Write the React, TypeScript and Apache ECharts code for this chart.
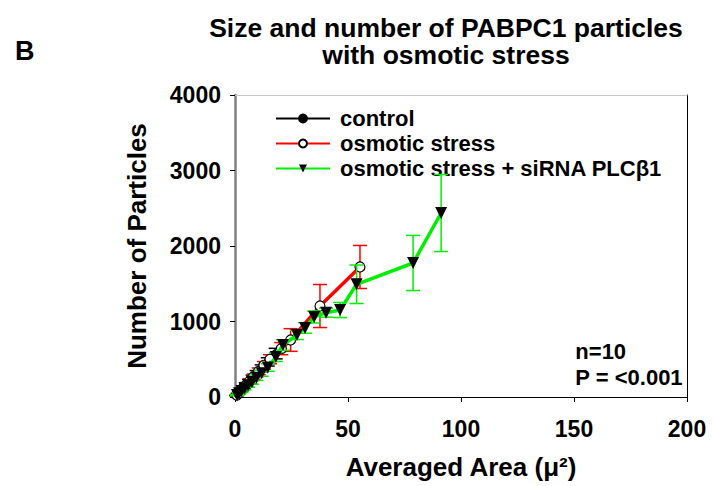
import React, { useEffect, useRef } from "react";
import * as echarts from "echarts";

const seriesNames = ["control", "osmotic stress", "osmotic stress + siRNA PLCβ1"];
const xTicks = [0, 50, 100, 150, 200];
const yTicks = [0, 1000, 2000, 3000, 4000];

const controlX = [0.6, 1.2, 2.0, 2.9, 3.8, 5.0, 6.3, 7.8, 9.6, 11.8, 14.5, 18.0];
const controlY = [20, 40, 66, 95, 125, 165, 205, 255, 310, 380, 465, 575];
const controlErr = [5, 8, 10, 15, 20, 25, 30, 35, 40, 45, 55, 70];

const osmoX = [0.8, 1.6, 2.6, 3.7, 5.0, 6.5, 8.3, 10.5, 12.8, 15.5, 20.5, 24.6, 37.6, 55.3];
const osmoY = [25, 52, 85, 120, 160, 210, 270, 340, 420, 500, 640, 755, 1205, 1722];
const osmoErr = [6, 10, 15, 20, 25, 30, 35, 45, 50, 60, 80, 150, 285, 285];

const sirnaX = [0.9, 1.8, 2.9, 4.2, 5.8, 7.5, 9.5, 11.8, 14.5, 18.1, 21.2, 27.4, 31.0, 35.0, 40.3, 46.5, 53.8, 78.8, 91.2];
const sirnaY = [25, 50, 80, 115, 155, 200, 255, 315, 390, 530, 689, 821, 914, 1060, 1117, 1152, 1493, 1775, 2437];
const sirnaErr = [8, 10, 15, 20, 25, 30, 35, 40, 50, 60, 70, 60, 70, 80, 60, 100, 255, 365, 510];

const FONT = "'Liberation Sans', Arial, Helvetica, sans-serif";

function pts(xs: number[], ys: number[]) {
  return xs.map((x, i) => [x, ys[i]]);
}
function errPts(xs: number[], ys: number[], es: number[]) {
  return xs.map((x, i) => [x, ys[i], es[i]]);
}

function errorSeries(color: string, data: number[][], z: number) {
  return {
    type: "custom",
    z,
    silent: true,
    data,
    encode: { x: 0, y: 1 },
    renderItem: (params: any, api: any) => {
      const x = api.value(0);
      const y = api.value(1);
      const e = api.value(2);
      const top = api.coord([x, y + e]);
      const bot = api.coord([x, y - e]);
      const hw = 7;
      const st = { stroke: color, lineWidth: 1.5 };
      return {
        type: "group",
        children: [
          { type: "line", shape: { x1: top[0], y1: top[1], x2: bot[0], y2: bot[1] }, style: st },
          { type: "line", shape: { x1: top[0] - hw, y1: top[1], x2: top[0] + hw, y2: top[1] }, style: st },
          { type: "line", shape: { x1: bot[0] - hw, y1: bot[1], x2: bot[0] + hw, y2: bot[1] }, style: st },
        ],
      };
    },
  };
}

export default function App() {
  const ref = useRef<HTMLDivElement>(null);
  useEffect(() => {
    if (!ref.current) return;
    const chart = echarts.init(ref.current, null, { renderer: "svg" });
    const labelStyle = { fontFamily: FONT, fontWeight: "bold", color: "#000" };
    chart.setOption({
      animation: false,
      backgroundColor: "#fff",
      title: {
        text: "Size and number of PABPC1 particles",
        subtext: "with osmotic stress",
        left: 446,
        top: 14,
        padding: 0,
        itemGap: 0,
        textAlign: "center",
        textStyle: { ...labelStyle, fontSize: 26.5, lineHeight: 27 },
        subtextStyle: { ...labelStyle, fontSize: 26.5, lineHeight: 27 },
      },
      legend: {
        left: 270,
        top: 101,
        orient: "vertical",
        itemWidth: 54,
        itemHeight: 10,
        itemGap: 0,
        data: seriesNames,
        textStyle: { ...labelStyle, fontSize: 22, lineHeight: 25, padding: [0, 0, 0, 5] },
      },
      grid: { left: 235, right: 26, top: 95, bottom: 89, containLabel: false, outerBoundsMode: "none" },
      xAxis: [
        {
          type: "value",
          min: 0,
          max: 200,
          interval: 50,
          position: "bottom",
          axisLine: { show: true, onZero: false, lineStyle: { color: "#000", width: 1 } },
          axisTick: { show: true, inside: false, length: 5, lineStyle: { color: "#000" } },
          axisLabel: { ...labelStyle, fontSize: 23, margin: 20, formatter: (v: number) => (xTicks.includes(v) ? String(v) : "") },
          splitLine: { show: false },
          name: "Averaged Area (μ²)",
          nameLocation: "middle",
          nameGap: 57,
          nameTextStyle: { ...labelStyle, fontSize: 26 },
        },
        {
          type: "value",
          min: 0,
          max: 200,
          interval: 50,
          position: "top",
          axisLine: { show: true, onZero: false, lineStyle: { color: "#c8c8c8", width: 1 } },
          axisTick: { show: false },
          axisLabel: { show: false },
          splitLine: { show: false },
        },
      ],
      yAxis: [
        {
          type: "value",
          min: 0,
          max: 4000,
          interval: 1000,
          position: "left",
          axisLine: { show: true, onZero: false, lineStyle: { color: "#808080", width: 2.5 } },
          axisTick: { show: true, inside: false, length: 5, lineStyle: { color: "#000" } },
          axisLabel: { ...labelStyle, fontSize: 23, margin: 14, formatter: (v: number) => (yTicks.includes(v) ? String(v) : "") },
          splitLine: { show: false },
          name: "Number of Particles",
          nameLocation: "middle",
          nameGap: 85,
          nameRotate: 90,
          nameTextStyle: { ...labelStyle, fontSize: 26 },
        },
        {
          type: "value",
          min: 0,
          max: 4000,
          interval: 1000,
          position: "right",
          axisLine: { show: true, onZero: false, lineStyle: { color: "#000", width: 1 } },
          axisTick: { show: false },
          axisLabel: { show: false },
          splitLine: { show: false },
        },
      ],
      graphic: [
        {
          type: "text",
          left: 15,
          top: 37,
          style: { text: "B", font: `bold 27px ${FONT}`, fill: "#000" },
        },
        {
          type: "text",
          right: 30,
          top: 338,
          style: {
            text: "n=10\nP = <0.001",
            font: `bold 22px ${FONT}`,
            fill: "#000",
            align: "right",
            lineHeight: 26,
          },
        },
      ],
      series: [
        errorSeries("#000000", errPts(controlX, controlY, controlErr), 1),
        {
          name: seriesNames[0],
          type: "line",
          z: 2,
          data: pts(controlX, controlY),
          symbol: "circle",
          symbolSize: 8,
          color: "#000",
          lineStyle: { color: "#000", width: 2.5 },
          itemStyle: { color: "#000", borderColor: "#000", borderWidth: 1 },
        },
        errorSeries("#ff0000", errPts(osmoX, osmoY, osmoErr), 3),
        {
          name: seriesNames[1],
          type: "line",
          z: 4,
          data: pts(osmoX, osmoY),
          symbol: "circle",
          symbolSize: 10,
          color: "#ff0000",
          lineStyle: { color: "#ff0000", width: 3.5 },
          itemStyle: { color: "#ffffff", borderColor: "#000", borderWidth: 1.2 },
        },
        errorSeries("#00ee00", errPts(sirnaX, sirnaY, sirnaErr), 5),
        {
          name: seriesNames[2],
          type: "line",
          z: 6,
          data: pts(sirnaX, sirnaY),
          symbol: "triangle",
          symbolRotate: 180,
          symbolSize: 12,
          color: "#00ee00",
          lineStyle: { color: "#00ee00", width: 3.5 },
          itemStyle: { color: "#000", borderColor: "#000", borderWidth: 0 },
        },
      ],
    });
    return () => chart.dispose();
  }, []);
  return (
    <div
      ref={ref}
      style={{ position: "absolute", left: 0, top: 0, width: 713, height: 486 }}
    />
  );
}
